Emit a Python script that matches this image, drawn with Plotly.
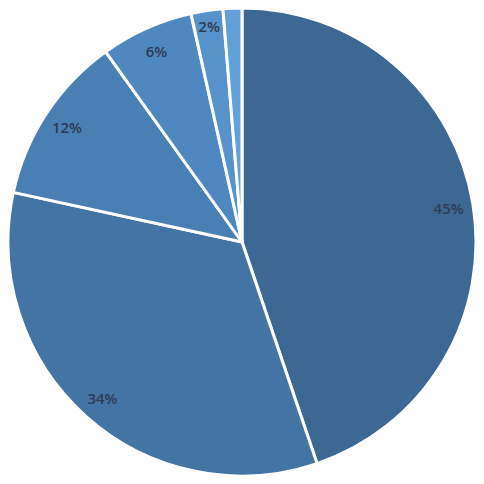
import plotly.graph_objects as go

labels = ["A", "B", "C", "D", "E", "F"]
values = [44.8, 33.6, 11.7, 6.4, 2.2, 1.3]
text_labels = ["45%", "34%", "12%", "6%", "2%", ""]
colors = ["#3d6893", "#4474a3", "#4a7fb4", "#4f88c0", "#5892cb", "#62a0da"]

fig = go.Figure()
fig.add_trace(go.Pie(
    labels=labels,
    values=values,
    textinfo="none",
    sort=False,
    direction="clockwise",
    rotation=0,
    marker=dict(colors=colors, line=dict(color="white", width=3)),
    hoverinfo="label+percent",
))
# transparent ring on top only to carry the labels near the rim
fig.add_trace(go.Pie(
    labels=labels,
    values=values,
    hole=0.79,
    text=text_labels,
    textinfo="text",
    textposition="inside",
    insidetextorientation="horizontal",
    sort=False,
    direction="clockwise",
    rotation=0,
    marker=dict(colors=["rgba(0,0,0,0)"] * len(values), line=dict(width=0)),
    textfont=dict(family="Open Sans", size=15, color="#2f3b55", weight=600),
    hoverinfo="skip",
))

fig.update_layout(
    margin=dict(l=0, r=0, t=0, b=0),
    paper_bgcolor="white",
    showlegend=False,
    uniformtext=dict(minsize=14, mode="show"),
)

fig.write_html("out.html")
